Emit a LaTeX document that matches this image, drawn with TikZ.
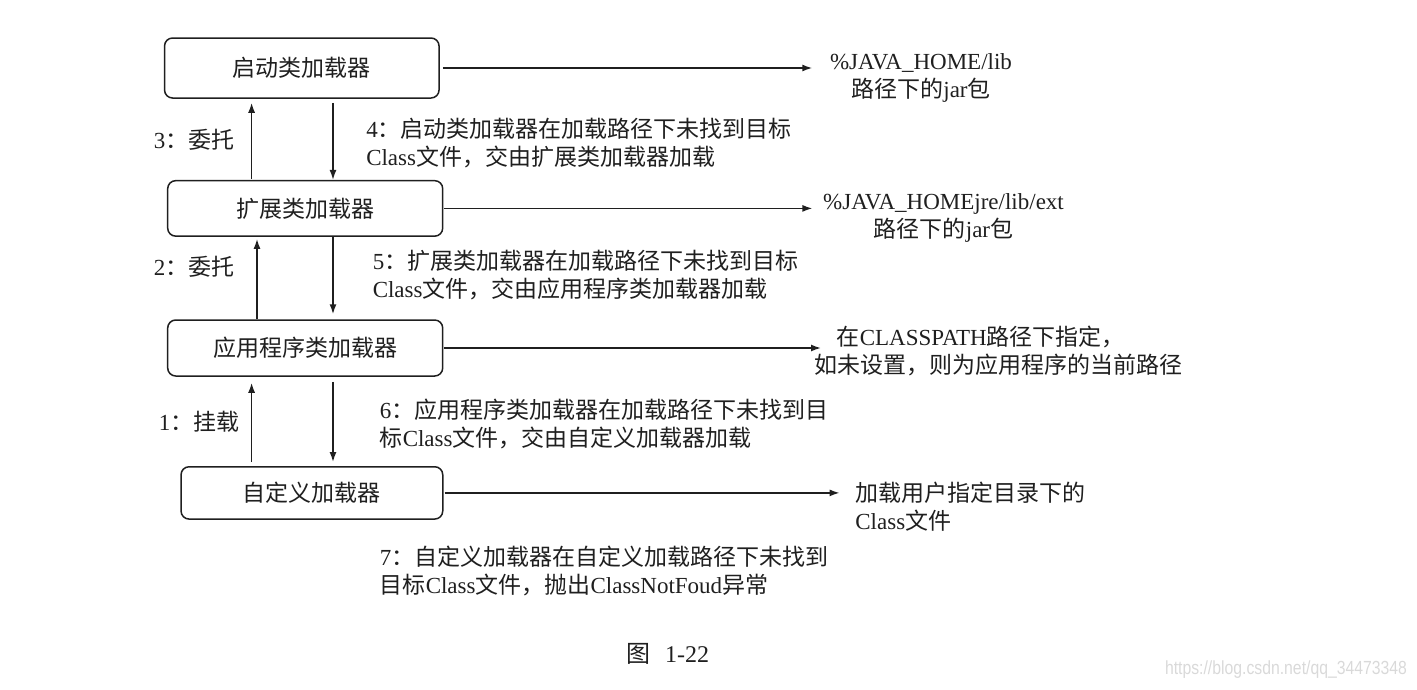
\documentclass[tikz,border=0pt]{standalone}
\usepackage{fontspec}
\usepackage{graphicx}
\usepackage{tikz}
\usetikzlibrary{arrows.meta}
\setmainfont{Liberation Serif}
\newfontfamily\cjk{Noto Sans CJK SC}
\newfontfamily\wmfont{Liberation Sans}
\newcommand{\zh}[1]{{\cjk #1}}

\begin{document}
\begin{tikzpicture}[x=1pt,y=-1pt,>={Latex[length=10pt,width=7pt]},
    line width=1.5pt,color=black!88,
    every node/.style={font=\fontsize{23}{28}\selectfont,inner sep=0pt},
    loader/.style={draw,rounded corners=8pt,minimum width=275pt,minimum height=56pt},
    note/.style={anchor=west,align=left}]
      \useasboundingbox (0,0) rectangle (1417,689);

      \node [loader,minimum width=274.5pt,minimum height=60pt] (1) at (301.8,68) {\zh{启动类加载器}};
      \node [loader,minimum height=55.5pt,below of=1,node distance=140.4pt,xshift=3.4pt] (2) {\zh{扩展类加载器}};
      \node [loader,below of=2,node distance=139.6pt] (3) {\zh{应用程序类加载器}};
      \node [loader,minimum width=261.7pt,minimum height=52.3pt,below of=3,node distance=144.9pt,xshift=6.7pt] (4) {\zh{自定义加载器}};

      \node [align=center] (5) at (921,77.5) {\%JAVA\_HOME/lib\\\zh{路径下的}jar\zh{包}};
      \node [align=center] (6) at (943.5,217.5) {\%JAVA\_HOMEjre/lib/ext\\\zh{路径下的}jar\zh{包}};
      \node [note] (7) at (814,350.5) {\hspace*{22pt}\zh{在}CLASSPATH\zh{路径下指定，}\\\zh{如未设置，则为应用程序的当前路径}};
      \node [note] (8) at (854.6,506.5) {\zh{加载用户指定目录下的}\\Class\zh{文件}};

      \node [note] (9) at (365.5,143.5) {4\zh{：启动类加载器在加载路径下未找到目标}\\Class\zh{文件，交由扩展类加载器加载}};
      \node [note] (10) at (372,275) {5\zh{：扩展类加载器在加载路径下未找到目标}\\Class\zh{文件，交由应用程序类加载器加载}};
      \node [note] (11) at (379,424) {6\zh{：应用程序类加载器在加载路径下未找到目}\\\zh{标}Class\zh{文件，交由自定义加载器加载}};
      \node [note] (12) at (379,571) {7\zh{：自定义加载器在自定义加载路径下未找到}\\\zh{目标}Class\zh{文件，抛出}ClassNotFoud\zh{异常}};

      \node [note] (13) at (153,140) {3\zh{：委托}};
      \node [note] (14) at (153,267) {2\zh{：委托}};
      \node [note] (15) at (158,422) {1\zh{：挂载}};

      \node (16) at (667.5,654) {\fontsize{24}{28}\selectfont\zh{图}\hspace{15pt}1-22};
      \node [text=black!15] (17) at (1286,670) {\wmfont\fontsize{19}{22}\selectfont\scalebox{0.83}[1]{https://blog.csdn.net/qq\_34473348}};

      \draw[->,shorten <=3pt,shorten >=17pt] (1.east) -- (1 -| 5.west);
      \draw[->,shorten <=1pt,shorten >=10pt] (2.east) -- (2 -| 6.west);
      \draw[->,shorten <=1pt,shorten >=-7pt] (3.east) -- (3 -| 7.west);
      \draw[->,shorten <=1pt,shorten >=15pt] (4.east) -- (4 -| 8.west);

      \draw[->,shorten <=1pt,shorten >=4pt] (2.north -| 251.6,0) -- (1.south -| 251.6,0);
      \draw[->,shorten <=4pt] (1.south -| 333,0) -- (2.north -| 333,0);
      \draw[->,shorten >=2pt] (3.north -| 257,0) -- (2.south -| 257,0);
      \draw[->,shorten >=5pt] (2.south -| 333,0) -- (3.north -| 333,0);
      \draw[->,shorten <=4pt,shorten >=6pt] (4.north -| 251.6,0) -- (3.south -| 251.6,0);
      \draw[->,shorten <=5pt,shorten >=4pt] (3.south -| 333,0) -- (4.north -| 333,0);
    \end{tikzpicture}
\end{document}
